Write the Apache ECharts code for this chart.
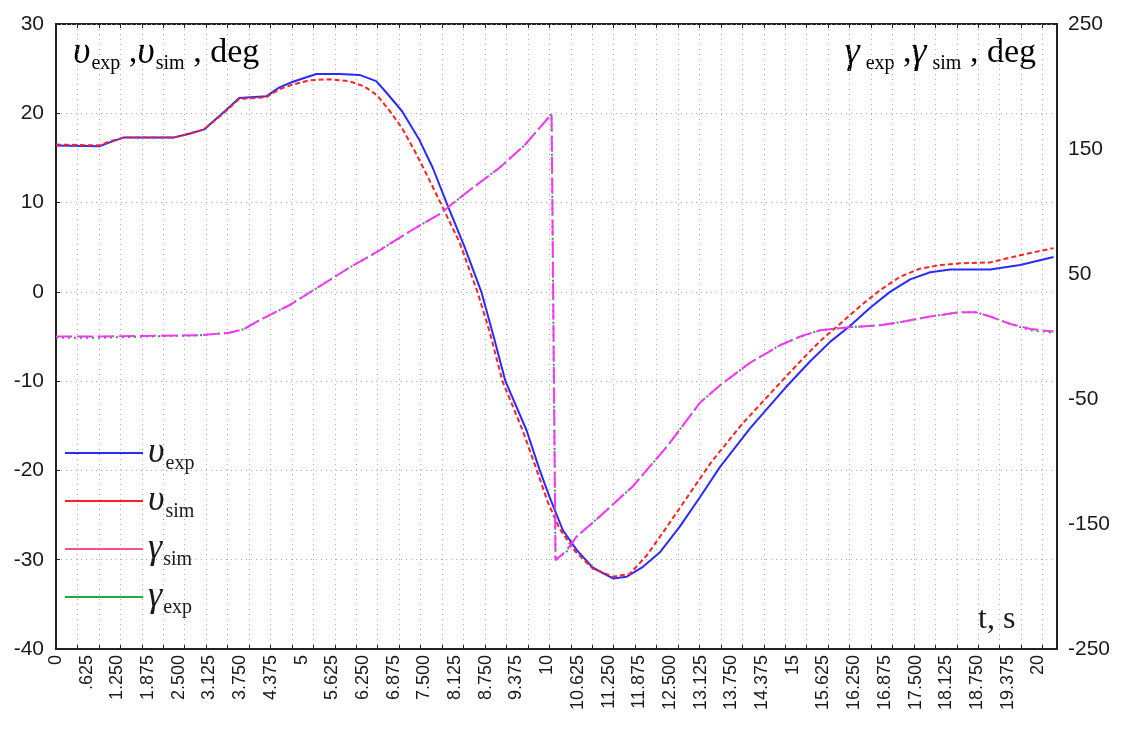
<!DOCTYPE html>
<html>
<head>
<meta charset="utf-8">
<script src="https://cdn.jsdelivr.net/npm/echarts@6/dist/echarts.min.js"></script>
<style>
  html, body { margin: 0; padding: 0; background: #fff; }
  #chart { width: 1122px; height: 729px; }
</style>
</head>
<body>
<div id="chart"></div>
<script>
// time samples (s) and pitch angle (deg), left axis
var tExp = [0, 0.88, 1.12, 1.39, 2.41, 2.71, 3.02, 3.47, 3.73, 4.28, 4.55, 4.81, 5.30, 5.77, 6.18, 6.52, 6.73, 7.05, 7.40, 7.67, 7.95, 8.32, 8.66, 8.91, 9.15, 9.58, 9.85, 10.05, 10.32, 10.60, 10.93, 11.34, 11.62, 11.95, 12.29, 12.70, 13.11, 13.52, 14.13, 14.84, 15.35, 15.76, 16.17, 16.57, 16.98, 17.39, 17.80, 18.21, 19.02, 19.63, 20.31];
var vExp = [16.4, 16.3, 16.8, 17.3, 17.3, 17.7, 18.2, 20.4, 21.7, 21.9, 22.9, 23.5, 24.4, 24.4, 24.3, 23.6, 22.3, 20.2, 17.0, 13.9, 10.0, 5.0, 0.0, -5.0, -10.0, -15.5, -20.0, -23.0, -26.7, -28.9, -30.9, -32.1, -31.9, -30.8, -29.2, -26.3, -23.0, -19.6, -15.3, -10.8, -7.8, -5.6, -3.8, -1.8, 0.0, 1.4, 2.2, 2.5, 2.5, 3.0, 3.9];

var tSim = [0, 0.88, 1.12, 1.39, 2.41, 2.71, 3.02, 3.47, 3.73, 4.28, 4.55, 4.81, 5.16, 5.57, 5.97, 6.28, 6.54, 6.79, 7.05, 7.30, 7.56, 7.87, 8.22, 8.58, 8.83, 9.09, 9.50, 9.79, 10.01, 10.25, 10.56, 10.93, 11.34, 11.68, 12.03, 12.44, 12.95, 13.35, 13.97, 14.64, 15.15, 15.56, 15.96, 16.37, 16.78, 17.19, 17.59, 18.00, 18.41, 19.02, 19.63, 20.31];
var vSim = [16.5, 16.4, 16.9, 17.3, 17.3, 17.7, 18.2, 20.3, 21.6, 21.8, 22.7, 23.2, 23.7, 23.8, 23.6, 23.0, 22.0, 20.3, 18.3, 15.8, 13.0, 9.5, 5.5, 0.0, -4.5, -10.0, -15.5, -20.0, -23.5, -26.5, -29.0, -31.0, -31.9, -31.6, -29.5, -26.3, -22.2, -19.0, -14.8, -10.8, -7.8, -5.5, -3.6, -1.6, 0.2, 1.7, 2.6, 3.0, 3.2, 3.3, 4.1, 4.9];

// roll angle (deg), right axis
var tGamma = [0, 0.88, 1.90, 2.92, 3.53, 3.83, 4.14, 4.75, 5.36, 5.97, 6.59, 7.20, 7.81, 8.42, 9.03, 9.54, 10.09, 10.17, 10.40, 10.60, 11.07, 11.74, 12.44, 13.11, 13.52, 14.13, 14.74, 15.15, 15.56, 16.17, 16.78, 17.19, 17.80, 18.41, 18.72, 19.02, 19.43, 19.84, 20.31];
var gSim = [0, 0, 0.5, 1, 3, 6, 13, 25, 40, 55, 69, 84, 98, 117, 135, 153, 178, -179, -171, -160, -144, -120, -88, -53, -39, -21, -7, 0, 5, 7.5, 9, 11.5, 16, 19.5, 19.5, 16, 10, 6, 4];
var gExp = [-1, -1, 0, 1, 3, 6, 13, 25, 40, 55, 69, 84, 98, 117, 135, 153, 178, -179, -172, -160, -144, -120, -88, -53, -39, -21, -7, 0, 5, 7.5, 9, 11.5, 16, 19.5, 19.5, 16, 10, 5, 3];

var legendLabels = {
  vexp: '{g|υ}{s|exp}',
  vsim: '{g|υ}{s|sim}',
  gsim: '{g|γ}{s|sim}',
  gexp: '{g|γ}{s|exp}'
};

function pairs(xs, ys) {
  var out = [];
  for (var i = 0; i < xs.length; i++) out.push([xs[i], ys[i]]);
  return out;
}

function timeLabel(v) {
  if (Math.abs(v - Math.round(v)) < 1e-6) return String(Math.round(v));
  var s = v.toFixed(3);
  if (s.charAt(0) === '0') s = s.slice(1);
  return s;
}

var serif = 'Liberation Serif';
var sans = 'Liberation Sans';
var ink = '#1a1a1a';
var gridDot = { color: '#aaaaaa', width: 1, type: [1, 4] };

var titleRich = {
  g: { fontFamily: serif, fontStyle: 'italic', fontSize: 38, color: ink },
  s: { fontFamily: serif, fontSize: 20, color: ink, padding: [22, 0, 0, 1] },
  c: { fontFamily: serif, fontSize: 34, color: ink }
};

var chart = echarts.init(document.getElementById('chart'));

chart.setOption({
  animation: false,
  backgroundColor: '#fff',
  grid: {
    left: 56, right: 65, top: 24, bottom: 80,
    show: true, borderColor: '#222', borderWidth: 2
  },
  legend: {
    orient: 'vertical',
    left: 60,
    top: 430,
    itemWidth: 78,
    itemHeight: 2,
    itemGap: 9,
    icon: 'rect',
    data: [
      { name: 'vexp' },
      { name: 'vsim' },
      { name: 'gsim', itemStyle: { color: '#ff4f8a' } },
      { name: 'gexp' }
    ],
    formatter: function (name) { return legendLabels[name]; },
    textStyle: {
      rich: {
        g: { fontFamily: serif, fontStyle: 'italic', fontSize: 36, color: ink },
        s: { fontFamily: serif, fontSize: 20, color: ink, padding: [22, 0, 0, 1] }
      }
    }
  },
  xAxis: [
    {
      type: 'value',
      min: 0,
      max: 20.38,
      interval: 0.625,
      axisLine: { show: true, onZero: false, lineStyle: { color: '#222', width: 2 } },
      axisTick: { show: false },
      splitLine: { show: false },
      axisLabel: {
        rotate: 90,
        margin: 6,
        showMaxLabel: false,
        fontFamily: sans,
        fontSize: 18,
        color: ink,
        formatter: timeLabel
      }
    },
    {
      type: 'value',
      position: 'bottom',
      min: 0,
      max: 46.67,
      interval: 1,
      axisLine: { show: false, onZero: false },
      axisLabel: { show: false },
      axisTick: { show: true, inside: true, length: 4, lineStyle: { color: '#222' } },
      splitLine: { show: true, lineStyle: gridDot }
    },
    {
      type: 'value',
      position: 'top',
      min: 0,
      max: 46.67,
      interval: 1,
      axisLine: { show: false, onZero: false },
      axisLabel: { show: false },
      axisTick: { show: true, inside: true, length: 4, lineStyle: { color: '#222' } },
      splitLine: { show: false }
    }
  ],
  yAxis: [
    {
      type: 'value',
      min: -40,
      max: 30,
      interval: 10,
      axisLine: { show: true, onZero: false, lineStyle: { color: '#222', width: 2 } },
      axisTick: { show: true, inside: true, length: 4, lineStyle: { color: '#222' } },
      splitLine: { show: true, lineStyle: gridDot },
      axisLabel: { margin: 12, fontFamily: sans, fontSize: 21, color: ink }
    },
    {
      type: 'value',
      position: 'right',
      min: -250,
      max: 250,
      interval: 100,
      axisLine: { show: true, onZero: false, lineStyle: { color: '#222', width: 2 } },
      axisTick: { show: false },
      splitLine: { show: false },
      axisLabel: { margin: 11, fontFamily: sans, fontSize: 21, color: ink }
    }
  ],
  graphic: [
    {
      type: 'text', left: 73, top: 34,
      style: { text: '{g|υ}{s|exp}{c| ,}{g|υ}{s|sim}{c| , deg}', rich: titleRich }
    },
    {
      type: 'text', right: 86, top: 34,
      style: { text: '{g|γ}{s| exp}{c| ,}{g|γ}{s| sim}{c| , deg}', rich: titleRich }
    },
    {
      type: 'text', left: 978, top: 604,
      style: { text: 't, s', fontFamily: serif, fontSize: 32, fill: ink }
    }
  ],
  series: [
    {
      name: 'vexp', type: 'line', xAxisIndex: 0, yAxisIndex: 0,
      showSymbol: false, symbol: 'none',
      color: '#2b2bff',
      lineStyle: { color: '#2b2bff', width: 2 },
      data: pairs(tExp, vExp)
    },
    {
      name: 'vsim', type: 'line', xAxisIndex: 0, yAxisIndex: 0,
      showSymbol: false, symbol: 'none',
      color: '#ff2222',
      lineStyle: { color: '#ff2222', width: 2, type: [5, 3] },
      data: pairs(tSim, vSim)
    },
    {
      name: 'gexp', type: 'line', xAxisIndex: 0, yAxisIndex: 1,
      showSymbol: false, symbol: 'none',
      color: '#22a844',
      lineStyle: { color: '#22a844', width: 2, type: [2, 4] },
      data: pairs(tGamma, gExp)
    },
    {
      name: 'gsim', type: 'line', xAxisIndex: 0, yAxisIndex: 1,
      showSymbol: false, symbol: 'none',
      color: '#ff33ff',
      lineStyle: { color: '#ff33ff', width: 2, type: [16, 5] },
      data: pairs(tGamma, gSim)
    }
  ]
});
</script>
</body>
</html>
